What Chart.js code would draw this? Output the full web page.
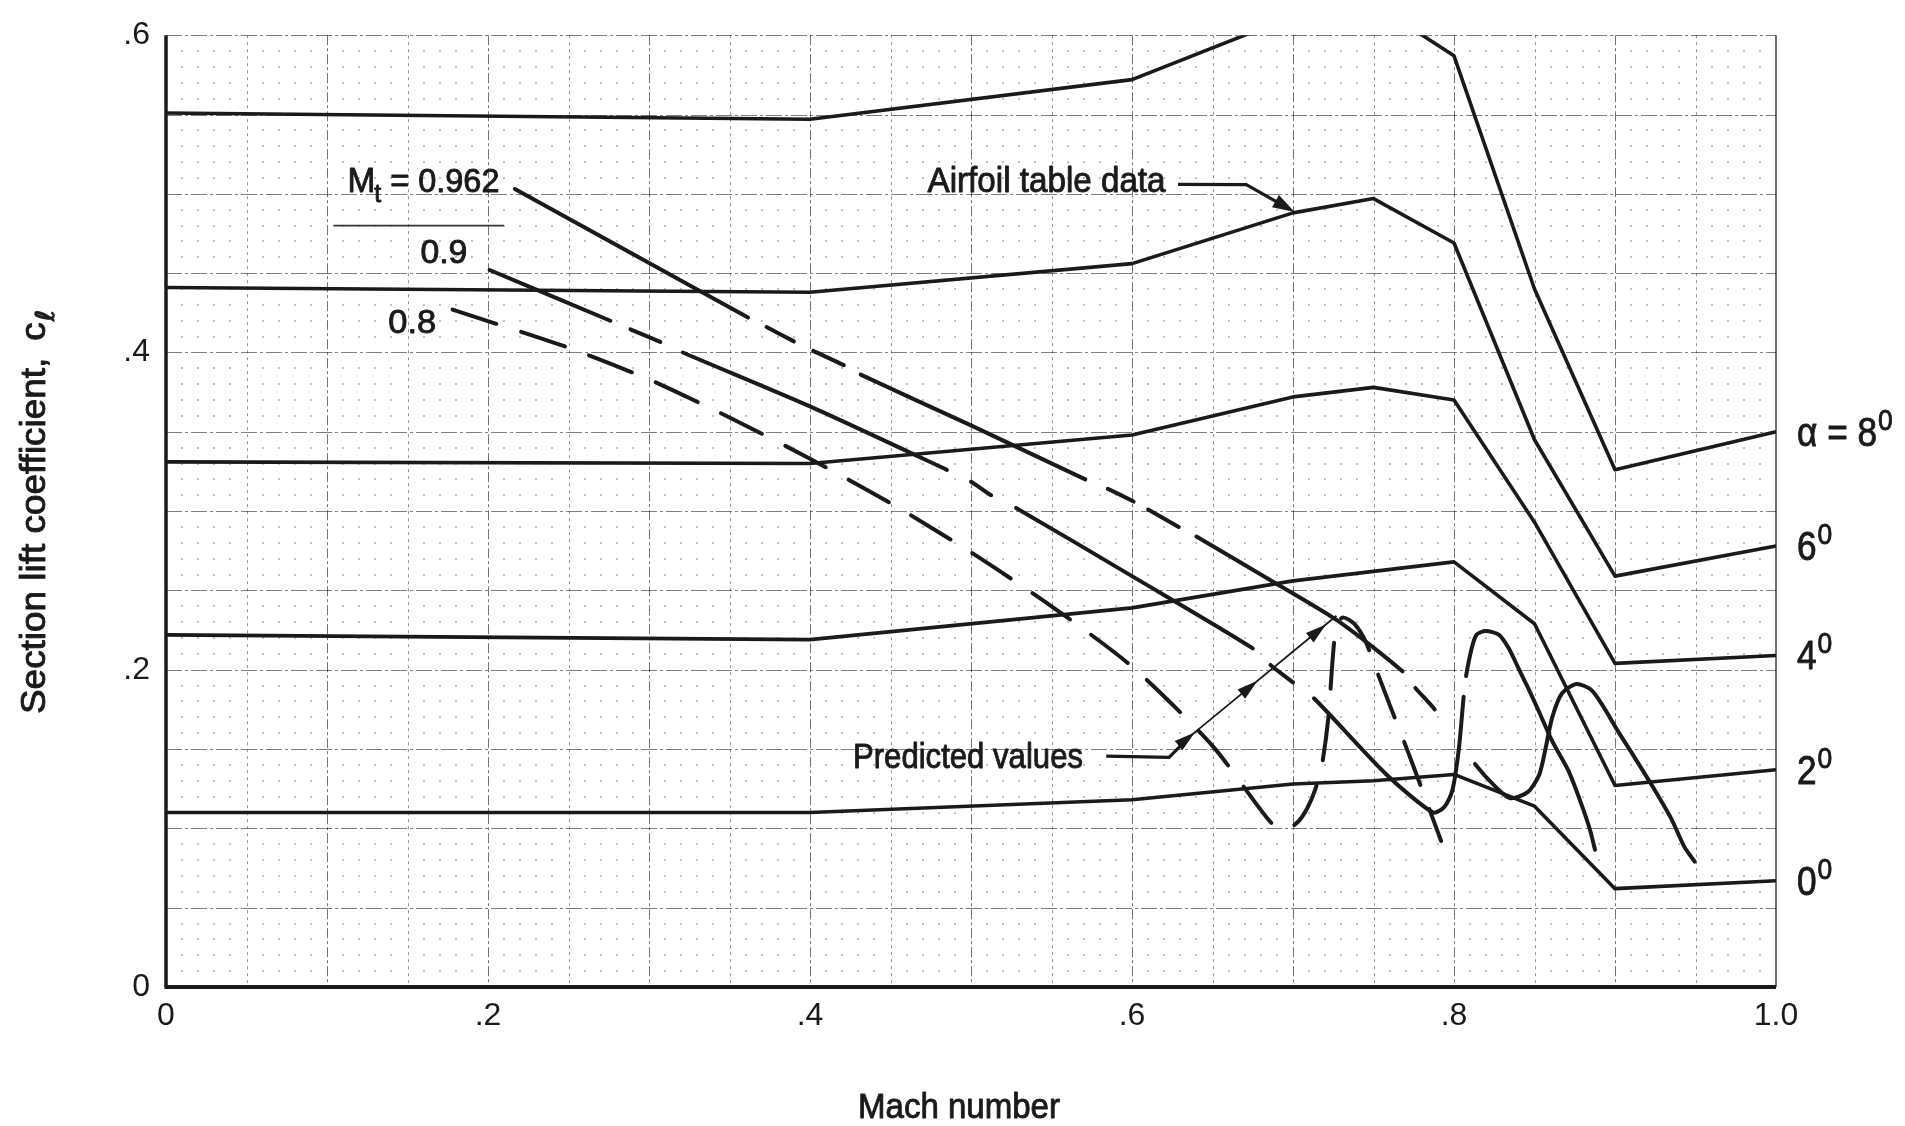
<!DOCTYPE html>
<html>
<head>
<meta charset="utf-8">
<title>Section lift coefficient vs Mach number</title>
<script src="https://cdn.jsdelivr.net/npm/chart.js@4.4.1/dist/chart.umd.min.js"></script>
<style>
html,body{margin:0;padding:0;background:#ffffff;overflow:hidden;}
canvas{display:block;}
</style>
</head>
<body>
<canvas id="chart" width="1905" height="1126"></canvas>
<script>
// ================= DATA =================
// Airfoil table data: section lift coefficient at these Mach numbers
const tableMach = [0, 0.4, 0.6, 0.7, 0.75, 0.8, 0.85, 0.9, 1.0];
const clAlpha0 = [0.110, 0.110, 0.118, 0.128, 0.130, 0.134, 0.114, 0.062, 0.067];
const clAlpha2 = [0.222, 0.219, 0.239, 0.256, 0.262, 0.268, 0.229, 0.127, 0.137];
const clAlpha4 = [0.331, 0.330, 0.348, 0.372, 0.378, 0.370, 0.293, 0.204, 0.209];
const clAlpha6 = [0.441, 0.438, 0.456, 0.488, 0.497, 0.469, 0.345, 0.259, 0.278];
const clAlpha8 = [0.551, 0.547, 0.572, 0.612, 0.620, 0.587, 0.440, 0.326, 0.350];
const alphaNames = ['0', '2', '4', '6', '8'];

// Predicted values, tip Mach number Mt = 0.962
const pred0962Mach = [0.2167, 0.3615, 0.373, 0.390, 0.402, 0.421, 0.4315, 0.500, 0.571, 0.585, 0.601, 0.610, 0.629, 0.640, 0.690, 0.729, 0.768, 0.776, 0.788, 0.813, 0.826, 0.835, 0.846, 0.853, 0.857, 0.861, 0.867, 0.876, 0.885, 0.892, 0.902, 0.912, 0.923, 0.935, 0.943, 0.9495];
const pred0962Cl   = [0.503, 0.422, 0.416, 0.407, 0.401, 0.392, 0.386, 0.354, 0.320, 0.314, 0.306, 0.301, 0.290, 0.284, 0.254, 0.230, 0.199, 0.1885, 0.175, 0.1406, 0.126, 0.119, 0.123, 0.134, 0.151, 0.170, 0.185, 0.191, 0.1875, 0.178, 0.161, 0.145, 0.127, 0.106, 0.0885, 0.079];

// Predicted values, Mt = 0.9
const pred09Mach = [0.201, 0.276, 0.2885, 0.307, 0.321, 0.400, 0.485, 0.500, 0.5125, 0.528, 0.600, 0.675, 0.686, 0.700, 0.713, 0.758, 0.787, 0.794, 0.799, 0.803, 0.806, 0.8075, 0.811, 0.814, 0.8196, 0.828, 0.834, 0.840, 0.846, 0.8526, 0.861, 0.871, 0.879, 0.8845, 0.8876];
const pred09Cl   = [0.452, 0.420, 0.4146, 0.4067, 0.400, 0.366, 0.326, 0.3185, 0.310, 0.302, 0.259, 0.2135, 0.203, 0.192, 0.182, 0.134, 0.110, 0.1135, 0.124, 0.150, 0.183, 0.196, 0.2135, 0.222, 0.2244, 0.222, 0.2135, 0.201, 0.1885, 0.174, 0.155, 0.1365, 0.1156, 0.099, 0.0865];

// Predicted values, Mt = 0.8
const pred08Mach = [0.178, 0.25, 0.30, 0.35, 0.40, 0.45, 0.50, 0.55, 0.60, 0.65, 0.686, 0.695, 0.703, 0.709, 0.714, 0.718, 0.722, 0.7245, 0.727, 0.731, 0.738, 0.745, 0.751, 0.76, 0.77, 0.78, 0.792];
const pred08Cl   = [0.427, 0.403, 0.383, 0.359, 0.333, 0.305, 0.274, 0.240, 0.202, 0.152, 0.104, 0.099, 0.104, 0.113, 0.125, 0.140, 0.170, 0.205, 0.228, 0.233, 0.229, 0.218, 0.202, 0.178, 0.152, 0.125, 0.092];

// Tick labels
const xTickValues = [0, 0.2, 0.4, 0.6, 0.8, 1.0];
const xTickLabels = ['0', '.2', '.4', '.6', '.8', '1.0'];
const yTickValues = [0, 0.2, 0.4, 0.6];
const yTickLabels = ['0', '.2', '.4', '.6'];

// ================= STYLE =================
const INK = '#1a1a1a';
const FONT = '"Liberation Sans", Arial, sans-serif';
// dashed drawing of the hand-drawn predicted curves: 1 = pen down, 0 = gap (per segment)
const pen0962 = [1,0,1,0,1,0,1,1,0,1,0,1,0,1,1,1,0,1,0,1, 1,1,1,1,1,1,1,1,1,1,1,1,1,1,1];
const pen09   = [1,0,1,0,1,1,0,1,0,1,1,0,1,0,1,1,1,1,1,1,0, 1,1,1,1,1,1,1,1,1,1,1,1,1];

function pts(xs, ys) { return xs.map((m, i) => ({x: m, y: ys[i]})); }

function tableSet(cl) {
  return {
    data: pts(tableMach, cl), showLine: true, borderColor: INK, borderWidth: 3.6,
    pointRadius: 0, tension: 0, borderJoinStyle: 'round',
    clip: {left: 4, right: 4, top: 0, bottom: 4}
  };
}
function predSet(xs, ys, pens, dash) {
  const ds = {
    data: pts(xs, ys), showLine: true, borderColor: INK, borderWidth: 4,
    pointRadius: 0, tension: 0.25, borderCapStyle: 'round', borderJoinStyle: 'round',
    clip: {left: 4, right: 4, top: 0, bottom: 4}
  };
  if (pens) ds.segment = { borderColor: c => pens[c.p0DataIndex] ? INK : 'rgba(0,0,0,0)' };
  if (dash) ds.borderDash = dash;
  return ds;
}

// ---- text helper: runs of text, optionally scaled to a target width ----
function drawRuns(ctx, runs, x, y, opt) {
  opt = opt || {};
  ctx.save();
  ctx.translate(x, y);
  if (opt.rot) ctx.rotate(opt.rot);
  const ws = runs.map(r => { ctx.font = (r.style || '') + ' ' + r.size + 'px ' + (r.family || FONT); return ctx.measureText(r.t).width; });
  const total = ws.reduce((s, w, i) => s + w + (runs[i].dx || 0), 0);
  const sx = opt.width ? opt.width / total : (opt.sx || 1);
  ctx.scale(sx, 1);
  ctx.textBaseline = 'alphabetic';
  ctx.textAlign = 'left';
  ctx.fillStyle = INK;
  ctx.strokeStyle = INK;
  ctx.lineWidth = 0.9;
  ctx.lineJoin = 'round';
  let cx = 0;
  runs.forEach((r, i) => {
    cx += r.dx || 0;
    ctx.font = (r.style || '') + ' ' + r.size + 'px ' + (r.family || FONT);
    ctx.fillText(r.t, cx, r.dy || 0);
    ctx.strokeText(r.t, cx, r.dy || 0);
    cx += ws[i];
  });
  ctx.restore();
}

function arrowHead(ctx, tx, ty, fx, fy, len, hw) {
  const a = Math.atan2(ty - fy, tx - fx);
  ctx.beginPath();
  ctx.moveTo(tx, ty);
  ctx.lineTo(tx - len * Math.cos(a) + hw * Math.sin(a), ty - len * Math.sin(a) - hw * Math.cos(a));
  ctx.lineTo(tx - len * Math.cos(a) - hw * Math.sin(a), ty - len * Math.sin(a) + hw * Math.cos(a));
  ctx.closePath();
  ctx.fill();
}

// ---- graph-paper grid ----
const paperGrid = {
  id: 'paperGrid',
  beforeDatasetsDraw(chart) {
    const {ctx, chartArea: a, scales: {x, y}} = chart;
    ctx.save();
    // minor dots every 0.01
    ctx.fillStyle = 'rgba(0,0,0,0.24)';
    for (let i = 1; i < 100; i++) {
      if (i % 5 === 0) continue;
      const px = Math.round(x.getPixelForValue(i / 100));
      for (let j = 1; j < 60; j++) {
        if (j % 5 === 0) continue;
        const py = Math.round(y.getPixelForValue(j / 100));
        ctx.fillRect(px - 1, py - 1, 2, 2);
      }
    }
    ctx.lineWidth = 1;
    // horizontal rules every 0.05
    ctx.strokeStyle = 'rgba(0,0,0,0.5)';
    ctx.setLineDash([16, 3, 3, 3]);
    for (let j = 1; j <= 12; j++) {
      const py = Math.round(y.getPixelForValue(j * 0.05)) + 0.5;
      ctx.beginPath(); ctx.moveTo(a.left, py); ctx.lineTo(a.right, py); ctx.stroke();
    }
    // vertical rules
    for (let i = 1; i < 20; i++) {
      const px = Math.round(x.getPixelForValue(i * 0.05)) + 0.5;
      if (i % 2 === 0) { ctx.strokeStyle = 'rgba(0,0,0,0.55)'; ctx.setLineDash([10, 3, 3, 3]); }
      else { ctx.strokeStyle = 'rgba(0,0,0,0.42)'; ctx.setLineDash([3, 4]); }
      ctx.beginPath(); ctx.moveTo(px, a.top); ctx.lineTo(px, a.bottom); ctx.stroke();
    }
    // right frame
    ctx.setLineDash([]);
    ctx.strokeStyle = 'rgba(0,0,0,0.75)';
    ctx.lineWidth = 1.5;
    const pr = x.getPixelForValue(1.0);
    ctx.beginPath(); ctx.moveTo(pr, a.top); ctx.lineTo(pr, a.bottom); ctx.stroke();
    ctx.restore();
  }
};

// ---- axes, labels and annotations ----
const notes = {
  mt:   {m: 0.1127, v: 0.509, width: 152},
  mt09: {m: 0.158, v: 0.464, width: 47},
  mt08: {m: 0.138, v: 0.420, width: 48},
  rule: {m0: 0.104, m1: 0.21, v: 0.48},
  airfoil: {m: 0.473, v: 0.509, width: 238, path: [[0.6286, 0.506], [0.671, 0.5058], [0.701, 0.4885]]},
  predicted: {m: 0.4267, v: 0.1458, width: 230, path: [[0.584, 0.1455], [0.623, 0.1448], [0.636, 0.158]],
              ray: [[0.636, 0.158], [0.727, 0.234]], tips: [0.639, 0.678, 0.7205]}
};

const annotate = {
  id: 'annotate',
  afterDatasetsDraw(chart) {
    const {ctx, chartArea: a, scales: {x, y}} = chart;
    const px = m => x.getPixelForValue(m), py = v => y.getPixelForValue(v);
    ctx.save();
    ctx.strokeStyle = INK; ctx.fillStyle = INK; ctx.setLineDash([]);
    // axis lines
    ctx.lineWidth = 3.5;
    ctx.beginPath(); ctx.moveTo(px(0), py(0.6)); ctx.lineTo(px(0), py(0)); ctx.stroke();
    ctx.lineWidth = 4;
    ctx.beginPath(); ctx.moveTo(px(0) - 1.5, py(0)); ctx.lineTo(px(1), py(0)); ctx.stroke();

    // Mt labels
    const n = notes;
    drawRuns(ctx, [{t: 'M', size: 35}, {t: 't', size: 26, dy: 10, dx: -1}, {t: ' = 0.962', size: 34}], px(n.mt.m), py(n.mt.v) + 12, {width: n.mt.width});
    drawRuns(ctx, [{t: '0.9', size: 34}], px(n.mt09.m), py(n.mt09.v) + 12, {width: n.mt09.width});
    drawRuns(ctx, [{t: '0.8', size: 34}], px(n.mt08.m), py(n.mt08.v) + 12, {width: n.mt08.width});
    ctx.lineWidth = 1.8; ctx.strokeStyle = '#333';
    ctx.beginPath(); ctx.moveTo(px(n.rule.m0), py(n.rule.v)); ctx.lineTo(px(n.rule.m1), py(n.rule.v)); ctx.stroke();
    ctx.strokeStyle = INK;

    // Airfoil table data
    drawRuns(ctx, [{t: 'Airfoil table data', size: 35}], px(n.airfoil.m), py(n.airfoil.v) + 12.5, {width: n.airfoil.width});
    const ap = n.airfoil.path.map(p => [px(p[0]), py(p[1])]);
    ctx.lineWidth = 3.2;
    ctx.beginPath(); ctx.moveTo(ap[0][0], ap[0][1]); ctx.lineTo(ap[1][0], ap[1][1]);
    const tip = ap[2], prev = ap[1];
    const ang = Math.atan2(tip[1] - prev[1], tip[0] - prev[0]);
    ctx.lineTo(tip[0] - 16 * Math.cos(ang), tip[1] - 16 * Math.sin(ang)); ctx.stroke();
    arrowHead(ctx, tip[0], tip[1], prev[0], prev[1], 22, 7);

    // Predicted values
    drawRuns(ctx, [{t: 'Predicted values', size: 35}], px(n.predicted.m), py(n.predicted.v) + 12.5, {width: n.predicted.width});
    const pp = n.predicted.path.map(p => [px(p[0]), py(p[1])]);
    ctx.lineWidth = 3.2;
    ctx.beginPath(); ctx.moveTo(pp[0][0], pp[0][1]); ctx.lineTo(pp[1][0], pp[1][1]); ctx.lineTo(pp[2][0], pp[2][1]); ctx.stroke();
    const r0 = n.predicted.ray[0], r1 = n.predicted.ray[1];
    ctx.lineWidth = 1.8;
    ctx.beginPath(); ctx.moveTo(px(r0[0]), py(r0[1])); ctx.lineTo(px(r1[0]), py(r1[1])); ctx.stroke();
    n.predicted.tips.forEach(m => {
      const v = r0[1] + (m - r0[0]) * (r1[1] - r0[1]) / (r1[0] - r0[0]);
      arrowHead(ctx, px(m), py(v), px(r0[0]), py(r0[1]), 21, 6);
    });

    // alpha labels at line ends
    const ends = [clAlpha0, clAlpha2, clAlpha4, clAlpha6, clAlpha8];
    ends.forEach((cl, k) => {
      const v = cl[cl.length - 1];
      const main = k === 4 ? '\u03b1 = ' + alphaNames[k] : alphaNames[k];
      drawRuns(ctx, [{t: main, size: 40}, {t: '0', size: 30, dy: -16, dx: 1}], a.right + 21, py(v) + 14, {sx: 0.88});
    });

    // axis titles
    drawRuns(ctx, [{t: 'Mach number', size: 35}], 858, 1118, {width: 202});
    drawRuns(ctx, [{t: 'Section lift coefficient,', size: 35}, {t: 'c', size: 35, dx: 16}, {t: '\u2113', size: 26, dy: 9, dx: 1, family: '"DejaVu Sans", sans-serif'}],
             45, 714, {rot: -Math.PI / 2, width: 404});
    ctx.restore();
  }
};

new Chart(document.getElementById('chart'), {
  type: 'scatter',
  data: {
    datasets: [
      tableSet(clAlpha0), tableSet(clAlpha2), tableSet(clAlpha4), tableSet(clAlpha6), tableSet(clAlpha8),
      predSet(pred0962Mach, pred0962Cl, pen0962, null),
      predSet(pred09Mach, pred09Cl, pen09, null),
      predSet(pred08Mach, pred08Cl, null, [46, 26])
    ]
  },
  options: {
    responsive: false, animation: false, devicePixelRatio: 1,
    layout: {padding: {left: 0, right: 129, top: 27, bottom: 0}},
    plugins: {legend: {display: false}, tooltip: {enabled: false}, title: {display: false}},
    scales: {
      x: {
        type: 'linear', min: 0, max: 1,
        grid: {display: false, drawTicks: false}, border: {display: false},
        afterFit: s => { s.height = 139; },
        afterBuildTicks: s => { s.ticks = xTickValues.map(v => ({value: v})); },
        ticks: {callback: (v, i) => xTickLabels[i], autoSkip: false, maxRotation: 0, padding: 10,
                color: INK, font: {family: FONT, size: 32}}
      },
      y: {
        type: 'linear', min: 0, max: 0.6,
        grid: {display: false, drawTicks: false}, border: {display: false},
        afterFit: s => { s.width = 166; },
        afterBuildTicks: s => { s.ticks = yTickValues.map(v => ({value: v})); },
        ticks: {callback: (v, i) => yTickLabels[i], autoSkip: false, padding: 16,
                color: INK, font: {family: FONT, size: 32}}
      }
    }
  },
  plugins: [paperGrid, annotate]
});
</script>
</body>
</html>
